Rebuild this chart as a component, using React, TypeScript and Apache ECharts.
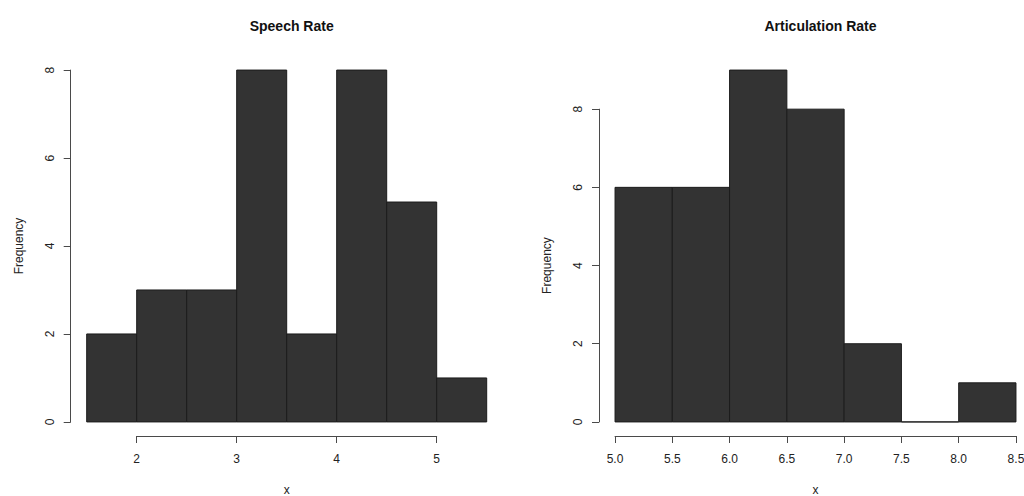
import React, { useEffect, useRef } from "react";
import * as echarts from "echarts";

// ---- data ----
const speechBreaks = [1.5, 2.0, 2.5, 3.0, 3.5, 4.0, 4.5, 5.0, 5.5];
const speechCounts = [2, 3, 3, 8, 2, 8, 5, 1];
const speechXTicks = [2, 5, 1]; // min, max, interval
const speechYTicks = [0, 8, 2];

const artBreaks = [5.0, 5.5, 6.0, 6.5, 7.0, 7.5, 8.0, 8.5];
const artCounts = [6, 6, 9, 8, 2, 0, 1];
const artXTicks = [5.0, 8.5, 0.5];
const artYTicks = [0, 8, 2];

const titles = ["Speech Rate", "Articulation Rate"];
const xLabel = "x";
const yLabel = "Frequency";

const FONT = "'Liberation Sans', Arial, Helvetica, sans-serif";

type Region = { left: number; right: number; top: number; bottom: number };

function buildPanel(
  idx: number,
  breaks: number[],
  counts: number[],
  xt: number[],
  yt: number[],
  reg: Region,
  decimals: number
) {
  const xr = breaks[breaks.length - 1] - breaks[0];
  const xmin = breaks[0] - 0.04 * xr;
  const xmax = breaks[breaks.length - 1] + 0.04 * xr;
  const yTop = Math.max(...counts);
  const ymin = -0.04 * yTop;
  const ymax = yTop + 0.04 * yTop;
  const W = reg.right - reg.left;
  const H = reg.bottom - reg.top;
  const px = (v: number) => reg.left + ((v - xmin) / (xmax - xmin)) * W;
  const py = (v: number) => reg.bottom - ((v - ymin) / (ymax - ymin)) * H;

  const g0 = idx * 3;
  const grids = [
    { left: reg.left, top: reg.top, width: W, height: H, outerBoundsMode: "none", containLabel: false },
    { left: reg.left, top: py(yt[1]), width: W, height: py(yt[0]) - py(yt[1]), outerBoundsMode: "none", containLabel: false },
    { left: px(xt[0]), top: reg.top, width: px(xt[1]) - px(xt[0]), height: H, outerBoundsMode: "none", containLabel: false },
  ];
  const axColor = "#4a4a4a";
  const lblColor = "#222";
  const xAxes: any[] = [
    { type: "value", gridIndex: g0, min: xmin, max: xmax, show: false },
    { type: "value", gridIndex: g0 + 1, min: 0, max: 1, show: false },
    {
      type: "value",
      gridIndex: g0 + 2,
      min: xt[0],
      max: xt[1],
      interval: xt[2],
      position: "bottom",
      splitLine: { show: false },
      axisLine: { show: true, lineStyle: { color: axColor, width: 1 } },
      axisTick: { show: true, length: 7, inside: false, lineStyle: { color: axColor, width: 1 } },
      axisLabel: {
        show: true,
        margin: 17,
        color: lblColor,
        fontSize: 12,
        fontFamily: FONT,
        showMinLabel: true,
        showMaxLabel: true,
        formatter: (v: number) => v.toFixed(decimals),
      },
      name: xLabel,
      nameLocation: "middle",
      nameGap: 48,
      nameTextStyle: { color: lblColor, fontSize: 12, fontFamily: FONT },
    },
  ];
  const yAxes: any[] = [
    { type: "value", gridIndex: g0, min: ymin, max: ymax, show: false },
    {
      type: "value",
      gridIndex: g0 + 1,
      min: yt[0],
      max: yt[1],
      interval: yt[2],
      position: "left",
      splitLine: { show: false },
      axisLine: { show: true, lineStyle: { color: axColor, width: 1 } },
      axisTick: { show: true, length: 7, inside: false, lineStyle: { color: axColor, width: 1 } },
      axisLabel: {
        show: true,
        rotate: 90,
        margin: 15,
        color: lblColor,
        fontSize: 12,
        fontFamily: FONT,
        showMinLabel: true,
        showMaxLabel: true,
      },
      name: yLabel,
      nameLocation: "middle",
      nameGap: 46,
      nameRotate: 90,
      nameTextStyle: { color: lblColor, fontSize: 12, fontFamily: FONT },
    },
    { type: "value", gridIndex: g0 + 2, min: 0, max: 1, show: false },
  ];
  const data = counts.map((c, i) => [breaks[i], breaks[i + 1], c]);
  const series = {
    type: "custom",
    xAxisIndex: g0,
    yAxisIndex: g0,
    data,
    encode: { x: [0, 1], y: 2 },
    clip: false,
    renderItem: (_p: any, api: any) => {
      const a = api.coord([api.value(0), api.value(2)]);
      const b = api.coord([api.value(1), 0]);
      return {
        type: "rect",
        shape: { x: a[0], y: a[1], width: b[0] - a[0], height: b[1] - a[1] },
        style: { fill: "#333333", stroke: "#1c1c1c", lineWidth: 1 },
      };
    },
  };
  const title = {
    text: titles[idx],
    left: (reg.left + reg.right) / 2,
    top: 14,
    textAlign: "center",
    textStyle: { fontFamily: FONT, fontSize: 14, fontWeight: "bold", color: "#111" },
  };
  return { grids, xAxes, yAxes, series, title };
}

export default function App() {
  const ref = useRef<HTMLDivElement>(null);
  useEffect(() => {
    if (!ref.current) return;
    const chart = echarts.init(ref.current, undefined, { renderer: "svg" });
    const p1 = buildPanel(0, speechBreaks, speechCounts, speechXTicks, speechYTicks,
      { left: 70.7, right: 502.7, top: 56, bottom: 436 }, 0);
    const p2 = buildPanel(1, artBreaks, artCounts, artXTicks, artYTicks,
      { left: 599, right: 1032, top: 56, bottom: 436 }, 1);
    chart.setOption({
      animation: false,
      backgroundColor: "#ffffff",
      title: [p1.title, p2.title],
      grid: [...p1.grids, ...p2.grids],
      xAxis: [...p1.xAxes, ...p2.xAxes],
      yAxis: [...p1.yAxes, ...p2.yAxes],
      series: [p1.series, p2.series],
    });
    return () => chart.dispose();
  }, []);
  return (
    <div
      ref={ref}
      style={{ position: "fixed", left: 0, top: 0, width: 1024, height: 496, background: "#fff" }}
    />
  );
}
